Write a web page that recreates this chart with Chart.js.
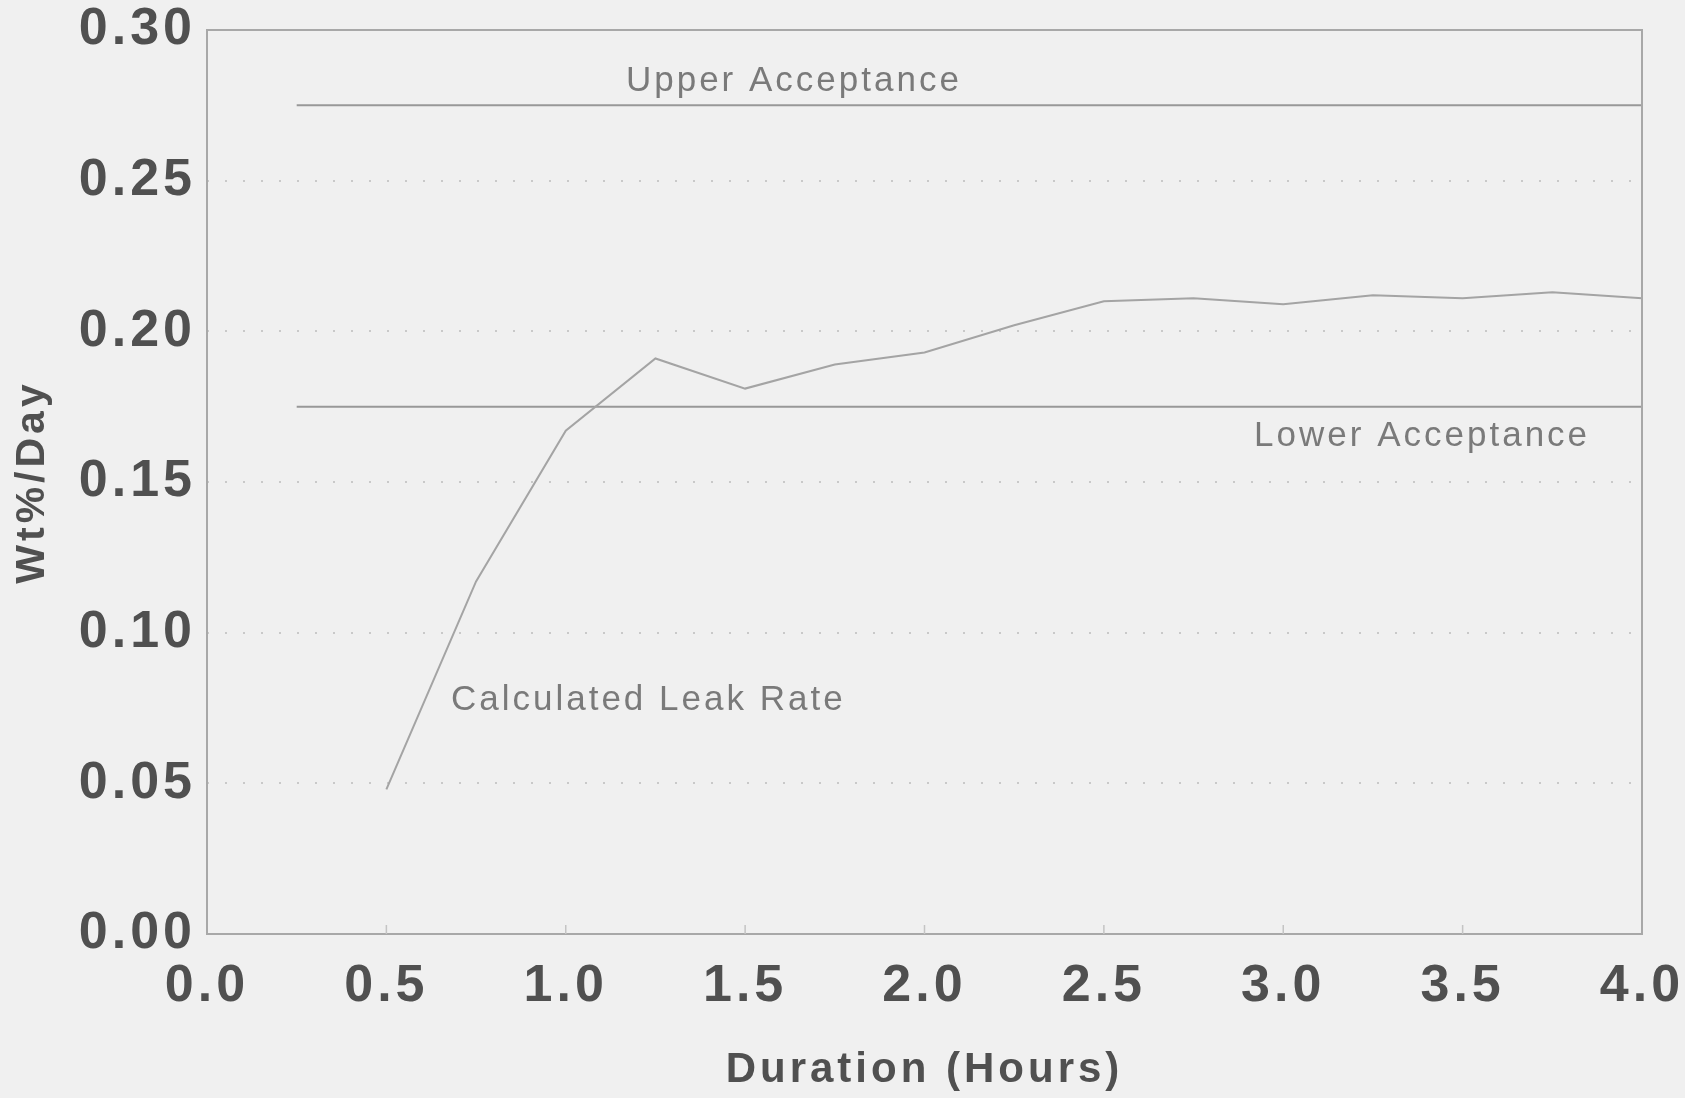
<!DOCTYPE html>
<html>
<head>
<meta charset="utf-8">
<script src="https://cdn.jsdelivr.net/npm/chart.js@4.4.1/dist/chart.umd.min.js"></script>
<style>
  html, body { margin: 0; padding: 0; background: #f0f0f0; }
  #wrap { width: 1685px; height: 1098px; position: relative; }
</style>
</head>
<body>
<div id="wrap"><canvas id="myChart"></canvas></div>
<script>
// data
const durationHours = [0.5, 0.75, 1.0, 1.25, 1.5, 1.75, 2.0, 2.25, 2.5, 2.75, 3.0, 3.25, 3.5, 3.75, 4.0];
const leakRate = [0.048, 0.117, 0.167, 0.191, 0.181, 0.189, 0.193, 0.202, 0.210, 0.211, 0.209, 0.212, 0.211, 0.213, 0.211];

const limitHours = [0.25, 4.0];
const upperAcceptance = [0.275, 0.275];
const lowerAcceptance = [0.175, 0.175];

// text labels inside the plot (data coords)
const notes = [
  { text: "Upper Acceptance", x: 1.636, y: 0.283, align: "center" },
  { text: "Lower Acceptance", x: 3.387, y: 0.165, align: "center" },
  { text: "Calculated Leak Rate", x: 0.68, y: 0.0777, align: "left" }
];

const pts = (xs, ys) => xs.map((x, i) => ({ x: x, y: ys[i] }));

const inkColor = "#505050";

// letter spacing for the whole chart (scanned text is wide tracked)
const spacingPlugin = {
  id: "spacing",
  beforeLayout(chart) { chart.ctx.letterSpacing = "4px"; },
  beforeDraw(chart) { chart.ctx.letterSpacing = "4px"; }
};

// box, small inward ticks, text notes
const decoPlugin = {
  id: "deco",
  afterDatasetsDraw(chart) {
    const ctx = chart.ctx;
    const a = chart.chartArea;
    const xs = chart.scales.x, ys = chart.scales.y;
    ctx.save();
    ctx.strokeStyle = "#a8a8a8";
    ctx.lineWidth = 2;
    ctx.strokeRect(a.left, a.top, a.right - a.left, a.bottom - a.top);

    ctx.strokeStyle = "#c4c4c4";
    ctx.lineWidth = 1.5;
    xs.ticks.forEach(t => {
      if (t.value <= 0 || t.value >= 4) return;
      const px = xs.getPixelForValue(t.value);
      ctx.beginPath();
      ctx.moveTo(px, a.bottom);
      ctx.lineTo(px, a.bottom - 9);
      ctx.stroke();
    });

    ctx.letterSpacing = "3px";
    ctx.font = "35px 'Liberation Sans', Arial, sans-serif";
    ctx.fillStyle = "#7a7a7a";
    ctx.textBaseline = "middle";
    notes.forEach(n => {
      ctx.textAlign = n.align;
      ctx.fillText(n.text, xs.getPixelForValue(n.x), ys.getPixelForValue(n.y));
    });
    ctx.restore();
  }
};

const ctx = document.getElementById("myChart").getContext("2d");

const myChart = new Chart(ctx, {
  type: "line",
  data: {
    datasets: [
      {
        label: "Calculated Leak Rate",
        data: pts(durationHours, leakRate),
        borderColor: "#a4a4a4",
        borderWidth: 2,
        pointRadius: 0,
        tension: 0,
        fill: false
      },
      {
        label: "Upper Acceptance",
        data: pts(limitHours, upperAcceptance),
        borderColor: "#989898",
        borderWidth: 2,
        pointRadius: 0,
        fill: false
      },
      {
        label: "Lower Acceptance",
        data: pts(limitHours, lowerAcceptance),
        borderColor: "#989898",
        borderWidth: 2,
        pointRadius: 0,
        fill: false
      }
    ]
  },
  options: {
    responsive: true,
    maintainAspectRatio: false,
    animation: false,
    layout: { padding: { left: 0, right: 43, top: 30, bottom: 0 } },
    plugins: {
      legend: { display: false },
      tooltip: { enabled: false }
    },
    scales: {
      x: {
        type: "linear",
        min: 0,
        max: 4,
        afterFit(scale) {
          scale.height = 164;
          scale.paddingLeft = 0;
          scale.paddingRight = 0;
        },
        border: { display: false },
        grid: { display: false, drawTicks: false },
        ticks: {
          stepSize: 0.5,
          padding: 21,
          color: inkColor,
          maxRotation: 0,
          font: { family: "'Liberation Sans', Arial, sans-serif", size: 52, weight: "bold" },
          callback: v => v.toFixed(1)
        },
        title: {
          display: true,
          text: "Duration (Hours)",
          color: inkColor,
          padding: { top: 0, bottom: 2 },
          font: { family: "'Liberation Sans', Arial, sans-serif", size: 42, weight: "bold" }
        }
      },
      y: {
        min: 0,
        max: 0.3,
        afterFit(scale) {
          scale.width = 207;
          scale.paddingTop = 0;
          scale.paddingBottom = 0;
        },
        border: { display: false },
        grid: {
          drawTicks: false,
          lineWidth: 2,
          color: c => (c.tick.value <= 0 || c.tick.value >= 0.3) ? "rgba(0,0,0,0)" : "rgba(0,0,0,0.16)"
        },
        ticks: {
          stepSize: 0.05,
          padding: 11,
          color: inkColor,
          font: { family: "'Liberation Sans', Arial, sans-serif", size: 52, weight: "bold" },
          callback: v => v.toFixed(2)
        },
        title: {
          display: true,
          text: "Wt%/Day",
          color: inkColor,
          padding: { top: 8, bottom: 0 },
          font: { family: "'Liberation Sans', Arial, sans-serif", size: 41, weight: "bold" }
        }
      }
    }
  },
  plugins: [spacingPlugin, decoPlugin]
});

// dotted grid lines
myChart.options.scales.y.grid.borderDash = [2, 16];
myChart.options.scales.y.border.dash = [2, 16];
myChart.update();
</script>
</body>
</html>
